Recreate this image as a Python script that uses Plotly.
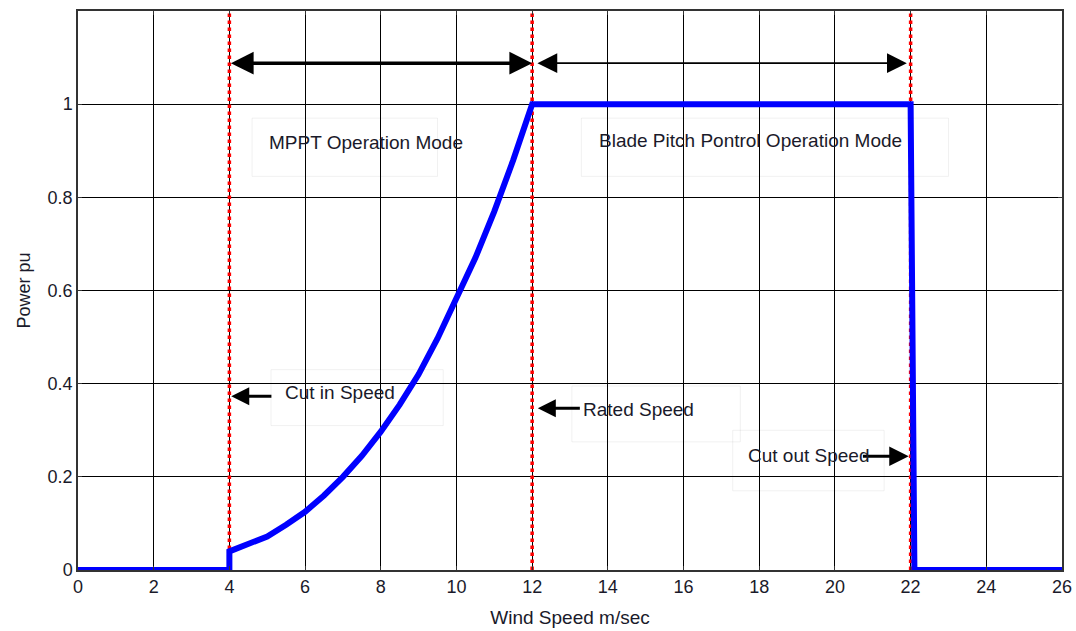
import plotly.graph_objects as go

# Data
wind_speed = [0, 4, 4, 4.5, 5, 5.5, 6, 6.5, 7, 7.5, 8, 8.5, 9, 9.5, 10, 10.5, 11, 11.5, 12, 22, 22.1, 26]
power_pu = [0, 0, 0.04, 0.055, 0.072, 0.097, 0.125, 0.16, 0.2, 0.245, 0.297, 0.355, 0.42, 0.497, 0.58, 0.67, 0.77, 0.88, 1.0, 1.0, 0, 0]
marker_speeds = [4, 12, 22]
x_ticks = list(range(0, 27, 2))
y_ticks = [0, 0.2, 0.4, 0.6, 0.8, 1]
y_tick_text = ["0", "0.2", "0.4", "0.6", "0.8", "1"]

fig = go.Figure()

for s in marker_speeds:
    fig.add_trace(go.Scatter(x=[s, s], y=[0, 1.2], mode="lines",
                             line=dict(color="red", width=3.5, dash="dot"),
                             showlegend=False, hoverinfo="skip"))

fig.add_trace(go.Scatter(x=wind_speed, y=power_pu, mode="lines",
                         line=dict(color="#0000ff", width=6),
                         showlegend=False))

font_c = "#1a1a2a"
FONT = "Liberation Sans, Arial"
# faint text boxes
boxes = [(4.6, 9.5, 0.845, 0.97), (13.3, 23.0, 0.845, 0.97), (5.1, 9.65, 0.31, 0.43),
         (13.05, 17.5, 0.275, 0.395), (17.3, 21.3, 0.17, 0.30)]
for x0, x1, y0, y1 in boxes:
    fig.add_shape(type="rect", x0=x0, x1=x1, y0=y0, y1=y1,
                  line=dict(color="rgba(0,0,0,0.06)", width=1), fillcolor="rgba(255,255,255,0)")

def arrow(x_head, x_tail, y, w=3, size=1.2, both=False):
    fig.add_annotation(x=x_head, y=y, ax=x_tail, ay=y, xref="x", yref="y",
                       axref="x", ayref="y", showarrow=True, arrowhead=2,
                       arrowsize=size, arrowwidth=w, arrowcolor="black", text="",
                       arrowside="end+start" if both else "end")

arrow(12, 4, 1.088, w=3.5, size=1.3, both=True)
arrow(21.9, 12.1, 1.088, w=1.8, size=2.2, both=True)
arrow(4.05, 5.15, 0.373, w=3, size=1.2)
arrow(12.15, 13.3, 0.347, w=3, size=1.2)
arrow(21.95, 20.7, 0.244, w=3, size=1.3)

texts = [(7.6, 0.917, "MPPT Operation Mode"), (17.78, 0.923, "Blade Pitch Pontrol Operation Mode"),
         (6.92, 0.381, "Cut in Speed"), (14.82, 0.345, "Rated Speed"), (19.29, 0.245, "Cut out Speed")]
for x, y, t in texts:
    fig.add_annotation(x=x, y=y, text=t, showarrow=False,
                       font=dict(family=FONT, size=19, color=font_c))

axis_common = dict(showgrid=True, gridcolor="black", gridwidth=1, showline=True,
                   linecolor="#333", linewidth=1.5, mirror="ticks", ticks="inside",
                   ticklen=4, tickcolor="#333", zeroline=False, automargin=False,
                   tickfont=dict(family=FONT, size=18, color=font_c))

fig.update_xaxes(range=[0, 26], tickvals=x_ticks,
                 title=dict(text="Wind Speed m/sec", standoff=14,
                            font=dict(family=FONT, size=19, color=font_c)),
                 **axis_common)
fig.update_yaxes(range=[0, 1.2], tickvals=y_ticks, ticktext=y_tick_text,
                 title=dict(text="Power pu", standoff=12,
                            font=dict(family=FONT, size=18, color=font_c)),
                 **axis_common)

fig.update_layout(width=1076, height=631, margin=dict(l=78, r=14, t=11, b=61),
                  plot_bgcolor="white", paper_bgcolor="white")

fig.write_html("out.html")
